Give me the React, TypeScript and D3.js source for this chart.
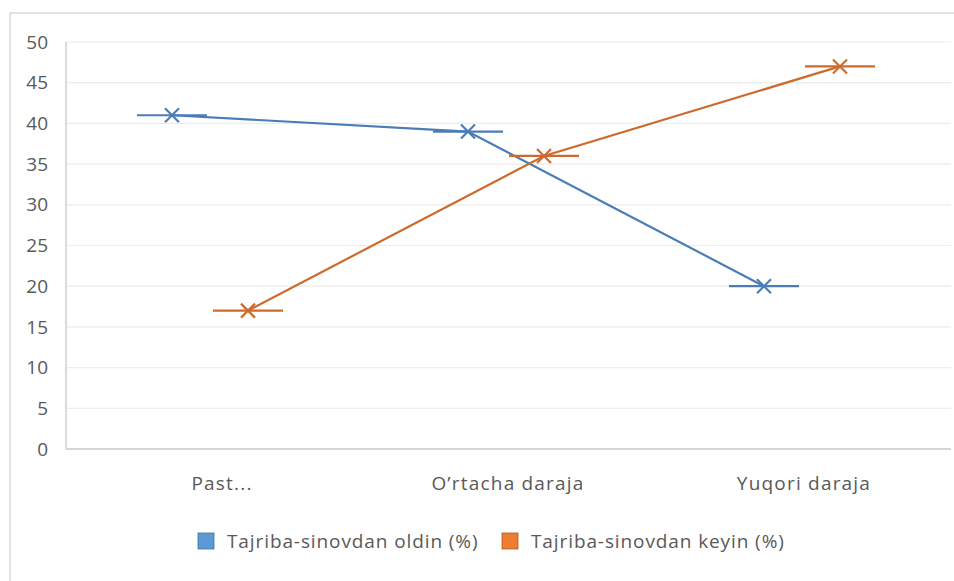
import React from "react";
import * as d3 from "d3";

const categories = ["Past...", "O’rtacha daraja", "Yuqori daraja"];
const seriesNames = ["Tajriba-sinovdan oldin (%)", "Tajriba-sinovdan keyin (%)"];
const beforeValues = [41, 39, 20];
const afterValues = [17, 36, 47];
const yTicks = [0, 5, 10, 15, 20, 25, 30, 35, 40, 45, 50];

const W = 954;
const H = 581;
const FONT = "'Open Sans', 'Noto Sans', sans-serif";
const lineColors = ["#4A7DB6", "#CD6A2C"];
const swatchFill = ["#5B9BD5", "#ED7D31"];
const swatchStroke = ["#41719C", "#AE5A21"];
const textColor = "#595959";

export default function App() {
  const x = d3.scaleBand<string>().domain(categories).range([64, 952]);
  const y = d3.scaleLinear().domain([0, 50]).range([449, 42]);
  const bw = x.bandwidth();
  const cx = (c: string) => (x(c) as number) + bw / 2;
  const offsets = [-40 / bw, 36 / bw];
  const data = [beforeValues, afterValues];
  const line = d3
    .line<[number, number]>()
    .x((d) => d[0])
    .y((d) => d[1]);
  const m = 7;
  const dash = 35;
  const labelShift = [10, 0, 0];

  return (
    <svg
      width={W}
      height={H}
      style={{ position: "absolute", left: 0, top: 0, background: "#fff" }}
      fontFamily={FONT}
    >
      <rect x={0} y={0} width={W} height={H} fill="#fff" />
      {/* chart frame */}
      <rect x={10} y={13} width={W + 20} height={H + 20} fill="#fff" stroke="#d9d9d9" strokeWidth={1.5} />
      {/* gridlines */}
      {yTicks.map((t) => (
        <line key={"g" + t} x1={66} x2={951} y1={y(t)} y2={y(t)} stroke={t === 0 ? "#c8c8c8" : "#ececec"} strokeWidth={t === 0 ? 1.5 : 1.2} />
      ))}
      <line x1={66} x2={66} y1={y(50)} y2={y(0)} stroke="#cfcfcf" strokeWidth={1.5} />
      {yTicks.map((t) => (
        <text key={"t" + t} x={48} y={y(t)} dy="0.35em" textAnchor="end" fontSize={19} fill={textColor}>
          {t}
        </text>
      ))}
      {categories.map((c, i) => (
        <text key={c} x={cx(c) + labelShift[i]} y={483} dy="0.35em" textAnchor="middle" fontSize={19} letterSpacing={1.2} fill={textColor}>
          {c}
        </text>
      ))}
      {data.map((vals, s) => {
        const pts: [number, number][] = vals.map((v, i) => [cx(categories[i]) + offsets[s] * bw, y(v)]);
        return (
          <g key={"s" + s} stroke={lineColors[s]} fill="none" strokeWidth={2.2}>
            <path d={line(pts) as string} />
            {pts.map((p, i) => (
              <g key={i}>
                <line x1={p[0] - dash} x2={p[0] + dash} y1={p[1]} y2={p[1]} strokeWidth={2.2} />
                <line x1={p[0] - m} x2={p[0] + m} y1={p[1] - m} y2={p[1] + m} strokeWidth={2.2} />
                <line x1={p[0] - m} x2={p[0] + m} y1={p[1] + m} y2={p[1] - m} strokeWidth={2.2} />
              </g>
            ))}
          </g>
        );
      })}
      {/* legend */}
      {seriesNames.map((n, i) => {
        const lx = i === 0 ? 198 : 502;
        return (
          <g key={n}>
            <rect x={lx} y={533} width={16} height={16} fill={swatchFill[i]} stroke={swatchStroke[i]} strokeWidth={0.8} />
            <text x={lx + 29} y={541} dy="0.35em" fontSize={19} letterSpacing={0.9} fill={textColor}>
              {n}
            </text>
          </g>
        );
      })}
    </svg>
  );
}
